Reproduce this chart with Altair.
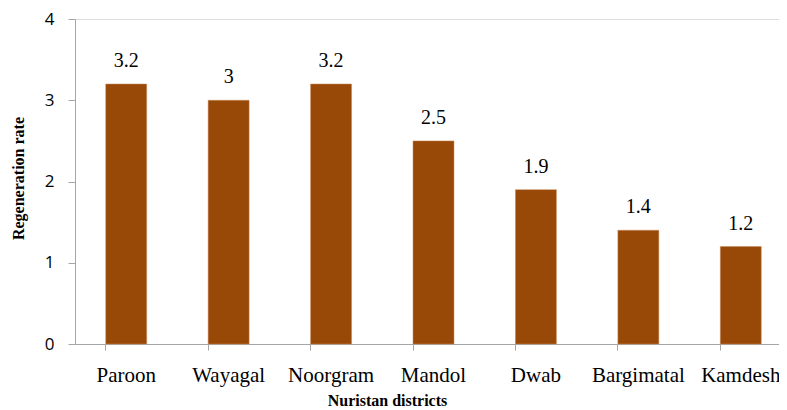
import altair as alt
import pandas as pd

districts = ["Paroon", "Wayagal", "Noorgram", "Mandol", "Dwab", "Bargimatal", "Kamdesh"]
rates = [3.2, 3.0, 3.2, 2.5, 1.9, 1.4, 1.2]
rate_labels = ["3.2", "3", "3.2", "2.5", "1.9", "1.4", "1.2"]

df = pd.DataFrame({"district": districts, "rate": rates, "label": rate_labels})

x = alt.X(
    "district:N",
    sort=districts,
    scale=alt.Scale(paddingInner=0.6, paddingOuter=0.3, range=[0, 717]),
    axis=alt.Axis(
        title="Nuristan districts",
        titleFont="Liberation Serif",
        titleFontSize=16,
        titleFontWeight="bold",
        titleColor="#000000",
        titleX=312,
        titleY=61,
        titleBaseline="alphabetic",
        titleAnchor="start",
        titleAlign="center",
        labelFont="Liberation Serif",
        labelFontSize=21,
        labelColor="#000000",
        labelAngle=0,
        labelPadding=14,
        tickSize=6,
        bandPosition=0,
        domainColor="#a6a6a6",
        tickColor="#a6a6a6",
    ),
)

y = alt.Y(
    "rate:Q",
    scale=alt.Scale(domain=[0, 4]),
    axis=alt.Axis(
        values=[0, 1, 2, 3, 4],
        format="d",
        title="Regeneration rate",
        titleFont="Liberation Serif",
        titleFontSize=16,
        titleFontWeight="bold",
        titleColor="#000000",
        titleX=-49,
        titleY=159,
        titleAnchor="start",
        titleAlign="center",
        labelFont="Open Sans",
        labelFontSize=17,
        labelColor="#000000",
        labelPadding=14,
        tickSize=7,
        domainColor="#a6a6a6",
        tickColor="#a6a6a6",
        grid=False,
    ),
)

bars = alt.Chart(df).mark_bar(color="#984807", stroke="#c98a5a", strokeWidth=0.5).encode(x=x, y=y)

text = alt.Chart(df).mark_text(
    font="Liberation Serif",
    fontSize=20,
    color="#000000",
    baseline="alphabetic",
    dy=-17,
).encode(x=alt.X("district:N", sort=districts), y="rate:Q", text="label:N")

chart = (
    alt.layer(bars, text)
    .properties(
        width=704,
        height=325,
        autosize=alt.AutoSizeParams(type="none"),
        padding={"left": 67, "top": 11, "right": 0, "bottom": 66},
    )
    .configure_view(stroke=None)
    .configure(background="#ffffff")
)

chart.save("out.html", embed_options={"renderer": "svg", "actions": False})
